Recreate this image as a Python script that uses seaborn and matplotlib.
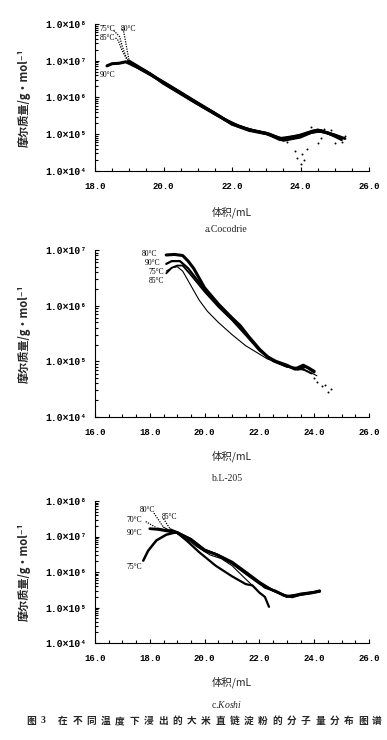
import matplotlib
matplotlib.use("Agg")
import numpy as np
import pandas as pd
import matplotlib.pyplot as plt
import seaborn as sns
from matplotlib.ticker import LogLocator, FuncFormatter, MultipleLocator, NullFormatter

# volume (mL) and log10(molar mass), one list per curve

# a. Cocodrie
a90_x = [18.35, 18.5, 18.7, 18.9, 19.2, 19.6, 20.0, 20.4, 20.8, 21.2, 21.6, 22.0, 22.4, 22.8, 23.1, 23.4, 23.7, 24.0, 24.3, 24.6, 24.9, 25.2]
a90_lg = [6.86, 6.92, 6.93, 6.97, 6.84, 6.65, 6.40, 6.17, 5.94, 5.72, 5.50, 5.28, 5.15, 5.06, 5.00, 4.88, 4.92, 4.96, 5.06, 5.08, 5.00, 4.90]
a75_x = [19.0, 19.4, 20.0, 20.6, 21.2, 21.8, 22.2, 22.6, 23.0, 23.4, 23.8, 24.2, 24.6, 25.0]
a75_lg = [6.95, 6.73, 6.42, 6.08, 5.74, 5.40, 5.22, 5.10, 5.02, 4.85, 4.90, 5.02, 5.10, 4.95]
a80_x = [19.0, 19.5, 20.0, 20.5, 21.0, 21.5, 22.0, 22.5, 23.0, 23.5, 24.0, 24.5, 25.0, 25.3]
a80_lg = [6.99, 6.71, 6.38, 6.10, 5.82, 5.55, 5.29, 5.12, 5.03, 4.83, 4.92, 5.12, 4.98, 4.88]
a85_x = [19.0, 19.5, 20.0, 20.5, 21.0, 21.5, 22.0, 22.5, 23.0, 23.5, 24.0, 24.4, 24.8, 25.2]
a85_lg = [6.96, 6.69, 6.41, 6.13, 5.84, 5.57, 5.27, 5.10, 5.01, 4.87, 4.98, 5.10, 5.04, 4.85]
a_dots_x = [23.3, 23.6, 23.85, 23.9, 24.0, 24.05, 24.1, 24.2, 24.3, 24.5, 24.6, 24.7, 24.9, 25.0, 25.2, 25.3]
a_dots_lg = [4.90, 4.80, 4.55, 4.35, 4.20, 4.45, 4.30, 4.60, 5.20, 4.75, 4.90, 5.15, 5.12, 4.75, 4.80, 4.95]
# sparse steep starts of 75/80/85 °C (drawn dotted)
a_lead = {"75": ([18.55, 18.72, 18.8, 18.9, 19.0], [7.82, 7.65, 7.38, 7.12, 6.95]),
          "80": ([18.8, 18.84, 18.9, 18.95, 19.0], [7.86, 7.78, 7.48, 7.22, 6.99]),
          "85": ([18.6, 18.68, 18.78, 18.9, 19.0], [7.62, 7.55, 7.30, 7.08, 6.96])}

# b. L-205
b80_x = [18.6, 18.9, 19.2, 19.4, 19.6, 20.0, 20.5, 21.0, 21.3, 21.6, 22.0, 22.3, 22.6, 23.0, 23.3, 23.6, 23.8, 24.0]
b80_lg = [6.91, 6.92, 6.90, 6.80, 6.67, 6.32, 6.03, 5.78, 5.64, 5.45, 5.22, 5.08, 5.00, 4.93, 4.86, 4.93, 4.88, 4.82]
b90_x = [18.6, 18.8, 19.1, 19.4, 19.7, 20.0, 20.5, 21.0, 21.5, 22.0, 22.5, 23.0, 23.4, 23.7, 24.0]
b90_lg = [6.75, 6.80, 6.80, 6.67, 6.48, 6.29, 6.01, 5.76, 5.50, 5.21, 5.01, 4.91, 4.85, 4.90, 4.80]
b75_x = [18.6, 18.8, 19.0, 19.2, 19.5, 20.0, 20.5, 21.0, 21.5, 22.0, 22.5, 23.0, 23.5, 23.9]
b75_lg = [6.58, 6.68, 6.72, 6.72, 6.55, 6.25, 5.98, 5.74, 5.47, 5.19, 5.00, 4.90, 4.88, 4.78]
b85_x = [18.6, 18.8, 19.0, 19.2, 19.5, 19.8, 20.1, 20.5, 21.0, 21.5, 22.0, 22.3, 22.8, 23.3, 23.7, 24.1]
b85_lg = [6.62, 6.68, 6.70, 6.62, 6.36, 6.10, 5.90, 5.70, 5.48, 5.28, 5.13, 5.04, 4.95, 4.86, 4.84, 4.74]
b_dots_x = [24.0, 24.1, 24.3, 24.4, 24.5, 24.6]
b_dots_lg = [4.70, 4.62, 4.55, 4.58, 4.45, 4.50]

# c. Koshi
c90_x = [18.0, 18.3, 18.6, 19.0, 19.5, 20.0, 20.4, 21.0, 21.5, 22.0, 22.2, 22.6, 22.9, 23.2, 23.5, 23.9, 24.2]
c90_lg = [7.22, 7.20, 7.16, 7.11, 6.90, 6.60, 6.50, 6.26, 5.98, 5.70, 5.57, 5.46, 5.34, 5.30, 5.37, 5.41, 5.46]
c85_x = [18.75, 19.0, 19.5, 20.0, 20.5, 21.0, 21.5, 22.0, 22.5, 23.0, 23.5, 24.0, 24.2]
c85_lg = [7.20, 7.12, 6.93, 6.63, 6.48, 6.29, 6.01, 5.72, 5.48, 5.30, 5.39, 5.44, 5.48]
c70_x = [18.3, 18.6, 19.0, 19.35, 19.8, 20.4, 21.0, 21.5, 21.75, 22.0, 22.2, 22.35]
c70_lg = [7.22, 7.17, 7.10, 6.88, 6.56, 6.18, 5.88, 5.66, 5.62, 5.42, 5.30, 5.02]
c80_x = [18.5, 18.8, 19.2, 19.7, 20.2, 20.6, 21.0, 21.5, 21.75]
c80_lg = [7.26, 7.14, 7.02, 6.72, 6.48, 6.38, 6.18, 5.80, 5.62]
c75_x = [17.76, 17.94, 18.24, 18.6, 18.96, 19.5, 20.0, 20.5, 21.0, 21.5, 22.0, 22.5, 23.0, 23.5, 24.0, 24.2]
c75_lg = [6.32, 6.60, 6.89, 7.05, 7.12, 6.92, 6.62, 6.47, 6.25, 5.96, 5.68, 5.48, 5.32, 5.36, 5.43, 5.45]
c_lead = {"70": ([17.85, 18.3], [7.42, 7.22]), "80": ([18.15, 18.5], [7.66, 7.26]), "85": ([18.5, 18.75], [7.5, 7.2])}

# temperature labels (x, lg) per panel
a_labels = {"75°C": (18.13, 7.86), "80°C": (18.75, 7.86), "85°C": (18.13, 7.62), "90°C": (18.13, 6.6)}
b_labels = {"80°C": (17.7, 6.92), "90°C": (17.8, 6.77), "75°C": (17.95, 6.61), "85°C": (17.95, 6.44)}
c_labels = {"70°C": (17.15, 7.46), "80°C": (17.65, 7.74), "85°C": (18.45, 7.55), "90°C": (17.15, 7.1), "75°C": (17.15, 6.14)}

title_head = ["图", "3"]
title_body = list("在不同温度下浸出的大米直链淀粉的分子量分布图谱")


def to_df(curves):
    rows = []
    for name, (xs, lgs) in curves.items():
        for x, lg in zip(xs, lgs):
            rows.append({"curve": name, "V": x, "M": 10 ** lg})
    return pd.DataFrame(rows)


sns.set_style("ticks")
plt.rcParams["font.family"] = ["Liberation Serif", "Noto Sans CJK SC", "DejaVu Sans"]
plt.rcParams["mathtext.fontset"] = "custom"
plt.rcParams["mathtext.rm"] = "Liberation Serif"
plt.rcParams["mathtext.it"] = "Liberation Serif:italic"

SUP = {4: "⁴", 5: "⁵", 6: "⁶", 7: "⁷", 8: "⁸"}
cjk = ["Noto Sans CJK SC", "DejaVu Sans"]

fig = plt.figure(figsize=(3.87, 7.4), dpi=100)
fig.patch.set_facecolor("white")

panels = [
    dict(rect=[0.2455, 0.769, 0.708, 0.1986], xlim=(18, 26), ylim=(1e4, 1e8),
         curves={"90": (a90_x, a90_lg), "75": (a75_x, a75_lg), "80": (a80_x, a80_lg), "85": (a85_x, a85_lg)},
         widths={"90": 2.2, "75": 2.0, "80": 2.0, "85": 2.0},
         dots=(a_dots_x, a_dots_lg), lead=a_lead, labels=a_labels,
         xlab_y=0.7135, cap_y=0.6905, cap=r"a.Cocodrie"),
    dict(rect=[0.2455, 0.4365, 0.708, 0.2257], xlim=(16, 26), ylim=(1e4, 1e7),
         curves={"80": (b80_x, b80_lg), "90": (b90_x, b90_lg), "75": (b75_x, b75_lg), "85": (b85_x, b85_lg)},
         widths={"80": 2.2, "90": 1.6, "75": 1.3, "85": 0.8},
         dots=(b_dots_x, b_dots_lg), lead=None, labels=b_labels,
         xlab_y=0.3838, cap_y=0.354, cap="b.L-205"),
    dict(rect=[0.2455, 0.131, 0.708, 0.192], xlim=(16, 26), ylim=(1e4, 1e8),
         curves={"90": (c90_x, c90_lg), "85": (c85_x, c85_lg), "70": (c70_x, c70_lg),
                 "80": (c80_x, c80_lg), "75": (c75_x, c75_lg)},
         widths={"90": 2.0, "85": 1.6, "70": 1.6, "80": 0.8, "75": 1.8},
         dots=None, lead=c_lead, labels=c_labels,
         xlab_y=0.0784, cap_y=0.0473, cap=r"c.$\it{Koshi}$"),
]

for p in panels:
    ax = fig.add_axes(p["rect"])
    df = to_df(p["curves"])
    sns.lineplot(data=df, x="V", y="M", hue="curve", size="curve",
                 palette={k: "black" for k in p["widths"]}, sizes=p["widths"],
                 estimator=None, sort=False, legend=False, ax=ax)
    if p["lead"]:
        ldf = to_df(p["lead"])
        sns.lineplot(data=ldf, x="V", y="M", units="curve", color="black", lw=0.9,
                     linestyle=(0, (1, 1)), estimator=None, sort=False, legend=False, ax=ax)
    if p["dots"]:
        sdf = pd.DataFrame({"V": p["dots"][0], "M": [10 ** v for v in p["dots"][1]]})
        sns.scatterplot(data=sdf, x="V", y="M", color="black", s=2, linewidth=0, ax=ax)
    for txt, (x, lg) in p["labels"].items():
        ax.text(x, 10 ** lg, txt, fontsize=5.5, ha="left", va="center", color="black")

    ax.set_yscale("log")
    ax.set_xlim(*p["xlim"])
    ax.set_ylim(*p["ylim"])
    ax.yaxis.set_major_locator(LogLocator(base=10))
    ax.yaxis.set_minor_locator(LogLocator(base=10, subs=np.arange(2, 10)))
    ax.yaxis.set_minor_formatter(NullFormatter())
    ax.yaxis.set_major_formatter(FuncFormatter(lambda v, pos: "1.0×10" + SUP.get(int(round(np.log10(v))), "")))
    ax.xaxis.set_major_locator(MultipleLocator(2))
    ax.xaxis.set_minor_locator(MultipleLocator(0.5))
    ax.xaxis.set_major_formatter(FuncFormatter(lambda v, pos: f"{v:.1f}"))
    ax.tick_params(axis="both", which="both", direction="in", colors="black", width=0.8)
    ax.tick_params(axis="both", which="major", length=3, labelfontfamily="Liberation Mono")
    ax.tick_params(axis="y", which="major", pad=6, labelsize=7)
    ax.tick_params(axis="x", which="major", pad=8, labelsize=6.5)
    ax.tick_params(axis="both", which="minor", length=2)
    for lab in ax.get_yticklabels() + ax.get_xticklabels():
        lab.set_fontweight("bold")
    sns.despine(ax=ax)
    ax.spines["left"].set_color("black")
    ax.spines["bottom"].set_color("black")
    ax.set_xlabel("")
    ax.set_ylabel("")

    # axis titles and panel caption
    x0, y0, w, h = p["rect"]
    fig.text(0.062, y0 + h / 2, "摩尔质量/g·mol⁻¹", rotation=90, ha="center", va="center",
             fontsize=8, family=cjk, fontweight="bold")
    fig.text(0.6, p["xlab_y"], "体积/mL", ha="center", va="center", fontsize=7.5, family=cjk)
    fig.text(0.585, p["cap_y"], p["cap"], ha="center", va="center", fontsize=7)

# figure caption, characters spread out as in the printed page
fig.text(31 / 387, 0.0257, title_head[0], ha="center", va="center", fontsize=7, family=cjk, fontweight="bold")
fig.text(43 / 387, 0.0257, title_head[1], ha="center", va="center", fontsize=7, fontweight="bold")
step = (377 - 63) / (len(title_body) - 1)
for i, ch in enumerate(title_body):
    fig.text((63 + i * step) / 387, 0.0257, ch, ha="center", va="center", fontsize=7,
             family=cjk, fontweight="bold")

fig.savefig("out.png", dpi=100)
